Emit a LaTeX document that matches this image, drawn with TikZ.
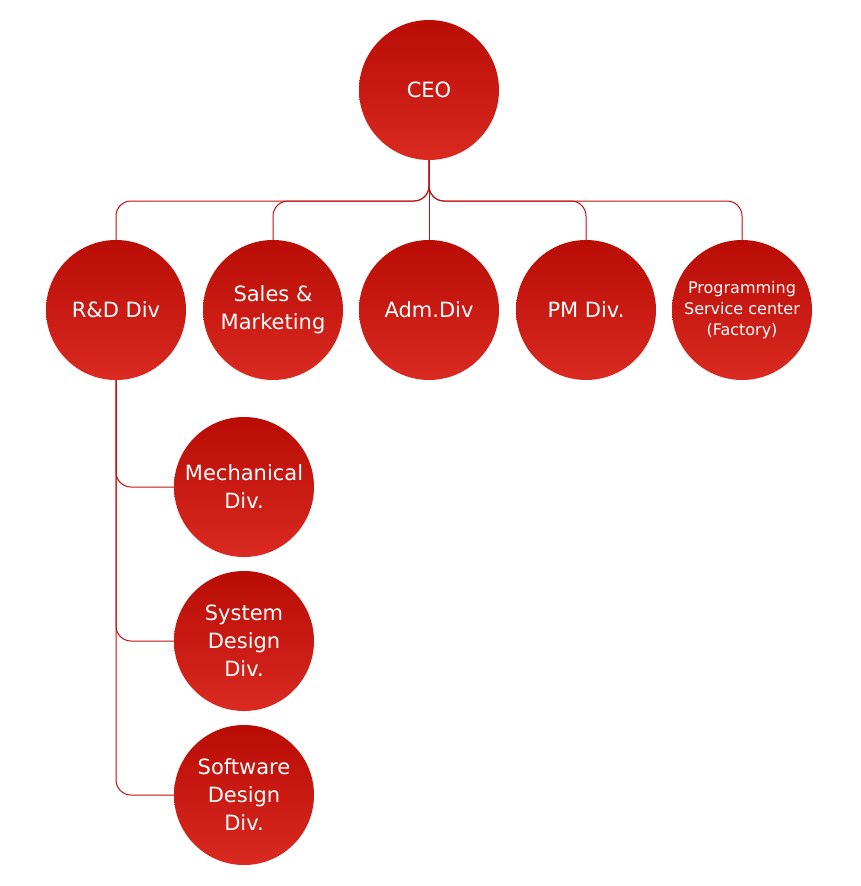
\documentclass[tikz,border=0pt]{standalone}
\usepackage{fontspec}
\setmainfont{DejaVu Sans}
\definecolor{unittop}{HTML}{B80C04}
\definecolor{unitbot}{HTML}{DA2A22}
\definecolor{linkred}{HTML}{C0100F}
\tikzset{
  unit/.style={circle,minimum size=140pt,inner sep=0pt,top color=unittop,bottom color=unitbot,
    text=white,align=center,font=\fontsize{21}{28}\selectfont},
  link/.style={draw=linkred,color=linkred,line width=1pt,rounded corners=15pt}
}
\begin{document}
\begin{tikzpicture}[x=1pt,y=-1pt]
\useasboundingbox (0,0) rectangle (860,886);

% Top
\node[unit] (ceo) at (429,90) {CEO};
\coordinate (bus) at (429,201);

% Divisions
\node[unit] (rd) at (116,310) {R\&D Div};
\node[unit] (sales) at (273,310) {Sales \&\\Marketing};
\node[unit] (adm) at (429,310) {Adm.Div};
\node[unit] (pm) at (586,310) {PM Div.};
\node[unit,font=\fontsize{16}{21}\selectfont] (psc) at (742,310) {Programming\\Service center\\(Factory)};

% R&D sub divisions
\node[unit] (mech) at (244,487) {Mechanical\\Div.};
\node[unit] (sys) at (244,641) {System\\Design\\Div.};
\node[unit] (soft) at (244,795) {Software\\Design\\Div.};

% CEO to divisions
\draw[link] (ceo.south) -- (adm.north);
\foreach \d in {rd,sales,pm,psc}
  \draw[link] (ceo.south) -- (bus) -| (\d.north);

% R&D branches
\foreach \s in {mech,sys,soft}
  \draw[link] (rd.south) |- (\s.west);

\end{tikzpicture}
\end{document}
